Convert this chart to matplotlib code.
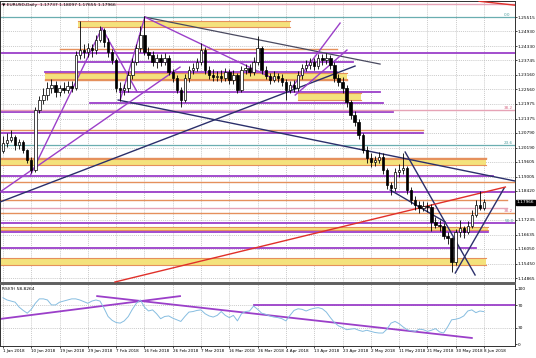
import numpy as np
import matplotlib.pyplot as plt
from matplotlib.transforms import blended_transform_factory

# -----------------------------
# Daily EURUSD bars
# -----------------------------
first_open = 1.2005
closes = [1.2037, 1.2050, 1.2062, 1.2029, 1.2041, 1.2009, 1.1968, 1.1927, 1.2172, 1.2213,
          1.2233, 1.2262, 1.2274, 1.2246, 1.2262, 1.2254, 1.2270, 1.2262, 1.2397, 1.2417,
          1.2409, 1.2425, 1.2417, 1.2458, 1.2498, 1.2450, 1.2409, 1.2376, 1.2262, 1.2254,
          1.2262, 1.2315, 1.2368, 1.2425, 1.2478, 1.2409, 1.2397, 1.2368, 1.2384, 1.2368,
          1.2384, 1.2327, 1.2303, 1.2254, 1.2213, 1.2303, 1.2335, 1.2343, 1.2368, 1.2417,
          1.2335, 1.2315, 1.2307, 1.2311, 1.2303, 1.2327, 1.2295, 1.2315, 1.2254, 1.2335,
          1.2343, 1.2327, 1.2368, 1.2425, 1.2335, 1.2311, 1.2295, 1.2311, 1.2303, 1.2287,
          1.2254, 1.2274, 1.2262, 1.2315, 1.2343, 1.2356, 1.2368, 1.2352, 1.2384, 1.2376,
          1.2384, 1.2356, 1.2303, 1.2287, 1.2262, 1.2205, 1.2152, 1.2123, 1.2070, 1.2009,
          1.1976, 1.1960, 1.1968, 1.1980, 1.1927, 1.1866, 1.1854, 1.1919, 1.1927, 1.1935,
          1.1846, 1.1805, 1.1785, 1.1772, 1.1780, 1.1776, 1.1715, 1.1703, 1.1699, 1.1658,
          1.1650, 1.1552, 1.1674, 1.1691, 1.1674, 1.1699, 1.1744, 1.1785, 1.1774, 1.17966]
highs = [1.2065, 1.2080, 1.2090, 1.2070, 1.2055, 1.2050, 1.2015, 1.1980, 1.2185, 1.2230,
         1.2260, 1.2285, 1.2300, 1.2290, 1.2275, 1.2285, 1.2290, 1.2290, 1.2415, 1.2537,
         1.2440, 1.2445, 1.2440, 1.2480, 1.2516, 1.2505, 1.2465, 1.2420, 1.2385, 1.2285,
         1.2280, 1.2330, 1.2385, 1.2440, 1.2515, 1.2555, 1.2430, 1.2415, 1.2400, 1.2400,
         1.2405, 1.2395, 1.2340, 1.2315, 1.2265, 1.2320, 1.2350, 1.2365, 1.2385, 1.2445,
         1.2430, 1.2350, 1.2340, 1.2330, 1.2335, 1.2345, 1.2340, 1.2335, 1.2325, 1.2350,
         1.2360, 1.2360, 1.2390, 1.2476, 1.2435, 1.2350, 1.2325, 1.2330, 1.2325, 1.2320,
         1.2300, 1.2290, 1.2295, 1.2330, 1.2360, 1.2375, 1.2385, 1.2385, 1.2400, 1.2400,
         1.2405, 1.2395, 1.2370, 1.2320, 1.2305, 1.2275, 1.2215, 1.2170, 1.2135, 1.2080,
         1.2025, 1.1995, 1.1985, 1.2000, 1.1995, 1.1935, 1.1880, 1.1935, 1.1950, 1.1995,
         1.1945, 1.1860, 1.1820, 1.1800, 1.1800, 1.1795, 1.1790, 1.1735, 1.1725, 1.1710,
         1.1675, 1.1655, 1.1685, 1.1725, 1.1700, 1.1720, 1.1765, 1.1805, 1.1840, 1.18097]
lows = [1.1995, 1.2020, 1.2040, 1.2010, 1.2015, 1.1995, 1.1955, 1.1915, 1.1920, 1.2160,
        1.2195, 1.2215, 1.2240, 1.2225, 1.2230, 1.2240, 1.2240, 1.2245, 1.2255, 1.2380,
        1.2385, 1.2390, 1.2390, 1.2400, 1.2450, 1.2430, 1.2390, 1.2360, 1.2245, 1.2210,
        1.2235, 1.2245, 1.2300, 1.2355, 1.2410, 1.2395, 1.2380, 1.2350, 1.2345, 1.2350,
        1.2355, 1.2315, 1.2285, 1.2240, 1.2185, 1.2205, 1.2285, 1.2320, 1.2330, 1.2355,
        1.2320, 1.2300, 1.2290, 1.2290, 1.2285, 1.2290, 1.2280, 1.2280, 1.2240, 1.2245,
        1.2320, 1.2310, 1.2315, 1.2355, 1.2320, 1.2300, 1.2280, 1.2285, 1.2285, 1.2270,
        1.2215, 1.2240, 1.2245, 1.2250, 1.2300, 1.2330, 1.2340, 1.2335, 1.2340, 1.2355,
        1.2360, 1.2340, 1.2285, 1.2270, 1.2240, 1.2185, 1.2135, 1.2105, 1.2055, 1.1995,
        1.1955, 1.1940, 1.1945, 1.1955, 1.1910, 1.1850, 1.1825, 1.1840, 1.1900, 1.1910,
        1.1830, 1.1790, 1.1765, 1.1750, 1.1760, 1.1755, 1.1680, 1.1690, 1.1680, 1.1645,
        1.1625, 1.1510, 1.1540, 1.1655, 1.1650, 1.1665, 1.1690, 1.1735, 1.1765, 1.17655]
opens = [first_open] + closes[:-1]

# RSI(9) values per bar
rsi = [84, 80, 78, 76, 67, 61, 56, 63, 74, 82, 82, 80, 71, 71, 76, 78, 80, 82, 82, 80,
       77, 74, 78, 80, 78, 65, 50, 43, 39, 38, 42, 50, 63, 74, 80, 67, 60, 62, 55, 46,
       50, 51, 47, 44, 41, 50, 58, 59, 61, 62, 55, 51, 49, 52, 59, 52, 48, 52, 42, 55,
       59, 60, 69, 63, 56, 54, 51, 49, 48, 46, 42, 52, 61, 64, 63, 60, 63, 65, 66, 64,
       58, 48, 39, 33, 30, 26, 27, 28, 25, 23, 25, 23, 21, 20, 20, 27, 38, 41, 37, 31,
       26, 24, 23, 27, 26, 23, 25, 28, 22, 20, 31, 44, 45, 47, 51, 60, 62, 57, 60, 58.83]

date_labels = ["1 Jan 2018", "10 Jan 2018", "19 Jan 2018", "29 Jan 2018", "7 Feb 2018",
               "16 Feb 2018", "26 Feb 2018", "7 Mar 2018", "16 Mar 2018", "26 Mar 2018",
               "4 Apr 2018", "13 Apr 2018", "23 Apr 2018", "2 May 2018", "11 May 2018",
               "21 May 2018", "30 May 2018", "8 Jun 2018"]
label_step = 7

price_ticks = [1.25515, 1.24930, 1.24330, 1.23745, 1.23160, 1.22560, 1.21975, 1.21375,
               1.20790, 1.20190, 1.19605, 1.19005, 1.18420, 1.17235, 1.16635,
               1.16050, 1.15450, 1.14865]

# -----------------------------
# Drawn objects: horizontal levels (price, from bar, to bar)
# -----------------------------
purple_levels = [(1.2405, -1, 127), (1.2368, 18.3, 86.6), (1.2327, 10.4, 82.7),
                 (1.2246, 29, 93.3), (1.2201, 21.5, 94), (1.2164, -1, 96.5),
                 (1.2078, -1, 104), (1.1903, -1, 121.3), (1.1837, -1, 127),
                 (1.1713, -1, 127), (1.1674, -1, 120), (1.1609, -1, 117)]
orange_levels = [(1.2421, 14.1, 82.7), (1.2295, 10.4, 85.1), (1.2091, -1, 104),
                 (1.1976, -1, 119.6), (1.1878, -1, 127), (1.1805, -1, 124.8),
                 (1.1752, -1, 127)]
pink_levels = [(1.2604, -1, 127), (1.2172, -1, 127), (1.1772, -1, 124.8)]
teal_levels = [(1.25515, -1, 127), (1.2029, -1, 127)]
zones = [(1.2509, 1.2537, 18.6, 71), (1.2299, 1.2323, 10.4, 85.1),
         (1.2213, 1.2241, 73, 88.6), (1.1948, 1.1972, -1, 119.6),
         (1.1682, 1.1694, -1, 120), (1.1540, 1.1568, -1, 119.6)]
fib_labels = [(1.25515, "0.0", "#4f9e9e"), (1.2172, "38.2", "#d9708a"),
              (1.2029, "23.6", "#4f9e9e"), (1.1752, "38.2", "#d9708a"),
              (1.1713, "50.0", "#4f9e9e")]

# trend lines (bar0, price0, bar1, price1)
navy_lines = [(-0.74, 1.17967, 87.1, 1.23516), (28.5, 1.22129, 126.7, 1.18824),
              (99.5, 1.20007, 116.8, 1.14989), (95.8, 1.18457, 109.4, 1.17151),
              (111.9, 1.15070, 124.0, 1.18538)]
grey_lines = [(35.1, 1.25515, 93.3, 1.23597)]
violet_lines = [(-0.74, 1.18375, 43.8, 1.23475), (6.7, 1.19028, 24.5, 1.25066),
                (24.5, 1.25066, 33.2, 1.22455), (29.0, 1.22129, 35.1, 1.25515),
                (35.1, 1.25515, 66.6, 1.23026), (71.0, 1.22537, 83.4, 1.25270),
                (72.3, 1.22333, 85.1, 1.24169)]
red_lines = [(27.7, 1.14703, 124.3, 1.18579), (117.8, 1.2616, 126.7, 1.2600)]

# RSI trend lines
rsi_lines = [(-0.74, 45.5, 43.8, 87), (23.3, 87, 116, 11), (62, 70, 127, 70)]

# -----------------------------
# Figure
# -----------------------------
plt.rcParams['font.family'] = 'DejaVu Sans'
fig = plt.figure(figsize=(5.36, 3.58), dpi=100)
ax = fig.add_axes([0, 0.2095, 0.961, 0.7875])
rax = fig.add_axes([0, 0.0335, 0.961, 0.1732], sharex=ax)

xmin, xmax = -0.74, 126.7
ax.set_xlim(xmin, xmax)
ax.set_ylim(1.14662, 1.26168)
rax.set_ylim(-3.6, 109)

purple = '#9b3fc9'
orange = '#e5905c'
pink = '#e6a3b6'
teal = '#6aaeb0'
yellow = '#f4e27c'

grid_x = [i * label_step for i in range(len(date_labels))]
for a in (ax, rax):
    for gx in grid_x:
        a.axvline(gx, color='#b8b8b8', lw=0.5, ls=(0, (1.5, 1.5)), zorder=0)
for p in price_ticks:
    ax.axhline(p, color='#b8b8b8', lw=0.5, ls=(0, (1.5, 1.5)), zorder=0)
for lv in (30, 70):
    rax.axhline(lv, color='#b8b8b8', lw=0.5, ls=(0, (1.5, 1.5)), zorder=0)

# zones
for lo, hi, x0, x1 in zones:
    ax.fill_between([x0, x1], lo, hi, color=yellow, lw=0, zorder=1)
    ax.plot([x0, x1], [lo, lo], color=orange, lw=0.8, zorder=2)
    ax.plot([x0, x1], [hi, hi], color=orange, lw=0.8, zorder=2)

for levels, col, lw in ((purple_levels, purple, 1.3), (orange_levels, orange, 1.0),
                        (pink_levels, pink, 1.0), (teal_levels, teal, 0.9)):
    for p, x0, x1 in levels:
        ax.plot([x0, x1], [p, p], color=col, lw=lw, zorder=2)

for lines, col, lw in ((navy_lines, '#2b2f6b', 1.0), (grey_lines, '#4a4a60', 0.9),
                       (violet_lines, purple, 1.0), (red_lines, '#e0302a', 1.0)):
    for x0, y0, x1, y1 in lines:
        ax.plot([x0, x1], [y0, y1], color=col, lw=lw, zorder=3)

for p, txt, col in fib_labels:
    ax.text(124.0, p, txt, color=col, fontsize=3.0, va='bottom', ha='left', zorder=5)

# candles
x = np.arange(len(closes))
o = np.array(opens)
c = np.array(closes)
ax.vlines(x, lows, highs, color='black', lw=0.6, zorder=4)
up = c >= o
body = np.where(np.abs(c - o) < 0.0002, 0.0002, c - o)
ax.bar(x[up], body[up], bottom=o[up], width=0.6, color='white',
       edgecolor='black', lw=0.5, zorder=5)
ax.bar(x[~up], body[~up], bottom=o[~up], width=0.6, color='black',
       edgecolor='black', lw=0.5, zorder=5)

# RSI
rax.plot(x, rsi, color='#86bde0', lw=0.7, zorder=3)
for x0, y0, x1, y1 in rsi_lines:
    rax.plot([x0, x1], [y0, y1], color=purple, lw=1.3, zorder=2)

# axes styling
for a in (ax, rax):
    a.yaxis.tick_right()
    a.tick_params(axis='y', direction='out', length=1.2, width=0.5, labelsize=3.1, pad=0.6)
    for s in a.spines.values():
        s.set_color('#303030')
        s.set_linewidth(0.7)
ax.set_yticks(price_ticks)
ax.set_yticklabels([f"{p:.5f}" for p in price_ticks])
ax.tick_params(axis='x', length=0, labelbottom=False)
ax.spines['bottom'].set_linewidth(1.4)
ax.spines['bottom'].set_color('#606060')
rax.spines['top'].set_linewidth(1.4)
rax.spines['top'].set_color('#606060')
rax.set_yticks([0, 30, 70, 100])
rax.set_xticks(grid_x)
rax.set_xticklabels(date_labels, fontsize=3.0, ha='left')
rax.tick_params(axis='x', direction='out', length=1.5, width=0.5, pad=1)

trans = blended_transform_factory(ax.transAxes, ax.transData)
ax.text(1.003, closes[-1], f"{closes[-1]:.5f}", transform=trans, fontsize=3.1,
        color='white', va='center', ha='left',
        bbox=dict(boxstyle='square,pad=0.12', fc='black', ec='black'))

ax.text(0.004, 0.993, "\u25bc EURUSD,Daily  1.17737 1.18097 1.17655 1.17966",
        transform=ax.transAxes, fontsize=3.2, va='top', ha='left')
rax.text(0.004, 0.95, "RSI(9) 58.8264", transform=rax.transAxes, fontsize=3.2,
         va='top', ha='left')

fig.savefig('out.png', dpi=100)
